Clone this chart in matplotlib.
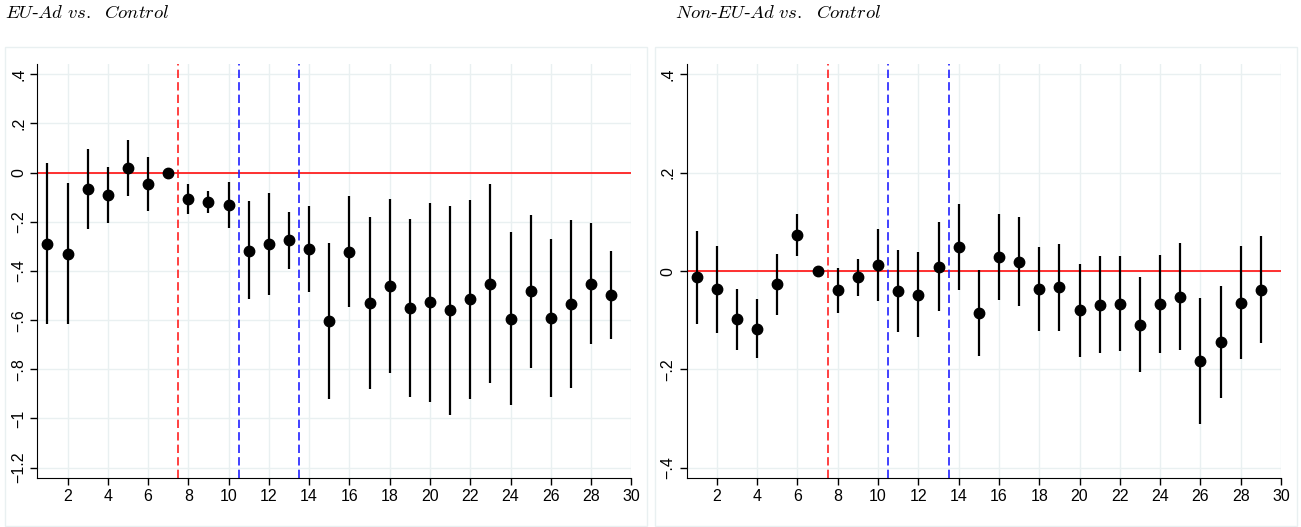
import matplotlib.pyplot as plt
import matplotlib.patches as mpatches
import numpy as np

plt.rcParams['mathtext.fontset'] = 'cm'
plt.rcParams['font.family'] = ['Liberation Sans', 'DejaVu Sans']

periods = np.arange(1, 30)

# EU-Ad vs. Control
eu_coef = [-0.289, -0.331, -0.066, -0.091, 0.019, -0.045, 0.0, -0.107, -0.121, -0.132,
           -0.317, -0.289, -0.275, -0.312, -0.603, -0.323, -0.532, -0.461, -0.549, -0.527,
           -0.560, -0.514, -0.452, -0.594, -0.483, -0.590, -0.534, -0.452, -0.498]
eu_hi = [0.038, -0.043, 0.096, 0.023, 0.133, 0.065, 0.0, -0.046, -0.075, -0.039,
         -0.117, -0.084, -0.160, -0.137, -0.285, -0.094, -0.180, -0.107, -0.187, -0.123,
         -0.136, -0.111, -0.046, -0.241, -0.171, -0.270, -0.193, -0.203, -0.317]
eu_lo = [-0.617, -0.617, -0.228, -0.206, -0.095, -0.156, 0.0, -0.168, -0.165, -0.224,
         -0.515, -0.498, -0.391, -0.487, -0.922, -0.548, -0.880, -0.815, -0.911, -0.932,
         -0.984, -0.919, -0.854, -0.946, -0.793, -0.913, -0.875, -0.697, -0.678]

# Non-EU-Ad vs. Control
neu_coef = [-0.013, -0.037, -0.098, -0.117, -0.027, 0.073, 0.0, -0.039, -0.012, 0.012,
            -0.040, -0.048, 0.009, 0.049, -0.085, 0.029, 0.019, -0.037, -0.033, -0.080,
            -0.068, -0.067, -0.109, -0.067, -0.052, -0.182, -0.144, -0.065, -0.038]
neu_hi = [0.081, 0.050, -0.037, -0.057, 0.035, 0.116, 0.0, 0.007, 0.025, 0.085,
          0.042, 0.039, 0.099, 0.137, 0.003, 0.117, 0.109, 0.048, 0.056, 0.015,
          0.030, 0.030, -0.012, 0.033, 0.058, -0.054, -0.031, 0.050, 0.072]
neu_lo = [-0.108, -0.126, -0.160, -0.177, -0.089, 0.031, 0.0, -0.086, -0.050, -0.060,
          -0.123, -0.134, -0.081, -0.039, -0.172, -0.059, -0.071, -0.122, -0.122, -0.175,
          -0.166, -0.163, -0.206, -0.167, -0.161, -0.310, -0.257, -0.179, -0.147]

eu_yticks = [0.4, 0.2, 0, -0.2, -0.4, -0.6, -0.8, -1, -1.2]
neu_yticks = [0.4, 0.2, 0, -0.2, -0.4]
xticks = list(range(2, 31, 2))

red_line = 7.5
blue_lines = [10.5, 13.5]

GRID = '#e9f0f1'


def stata_label(v):
    if v == 0:
        return '0'
    s = ('%g' % abs(v))
    if s.startswith('0.'):
        s = s[1:]
    return ('\u2212' if v < 0 else '') + s


fig = plt.figure(figsize=(13.01, 5.27), dpi=100)

# light outer boxes around each graph region
for x0, x1 in [(5, 647), (655, 1297)]:
    fig.patches.append(mpatches.Rectangle((x0 / 1301, 1 / 527), (x1 - x0) / 1301, (526 - 47) / 527,
                                          transform=fig.transFigure, fill=False,
                                          edgecolor=GRID, linewidth=1))

panels = [
    ([0.02867, 0.09355, 0.45664, 0.78501], eu_coef, eu_lo, eu_hi, eu_yticks, (-1.241, 0.442),
     r'$\mathit{EU}$-$\mathit{Ad\ vs.\ \ Control}$', 5 / 1301),
    ([0.52782, 0.09355, 0.45680, 0.78501], neu_coef, neu_lo, neu_hi, neu_yticks, (-0.420, 0.421),
     r'$\mathit{Non}$-$\mathit{EU}$-$\mathit{Ad\ vs.\ \ Control}$', 675 / 1301),
]

for rect, coef, lo, hi, yt, ylim, title, tx in panels:
    ax = fig.add_axes(rect)
    ax.set_xlim(0.5, 30)
    ax.set_ylim(*ylim)
    ax.set_xticks(xticks)
    ax.set_yticks(yt)
    ax.set_yticklabels([stata_label(v) for v in yt], rotation=90, va='center')
    ax.grid(True, color=GRID, linewidth=1)
    ax.set_axisbelow(True)
    for s in ['top', 'right']:
        ax.spines[s].set_visible(False)
    ax.tick_params(direction='out', length=5, width=1, labelsize=11.5, pad=3)

    ax.axhline(0, color='#ff2020', linewidth=1.3, zorder=2)
    ax.axvline(red_line, color='#ff2020', linestyle=(0, (5, 2.5)), linewidth=1.2, zorder=2)
    for b in blue_lines:
        ax.axvline(b, color='#2020ff', linestyle=(0, (5, 2.5)), linewidth=1.2, zorder=2)

    ax.vlines(periods, lo, hi, color='black', linewidth=1.6, zorder=3)
    ax.plot(periods, coef, 'o', color='black', markersize=7.5, zorder=4)

    fig.text(tx, 1 - 13 / 527, title, fontsize=13.5, va='center', ha='left',
             family=['Liberation Serif', 'DejaVu Serif'])

fig.savefig('out.png', dpi=100)
